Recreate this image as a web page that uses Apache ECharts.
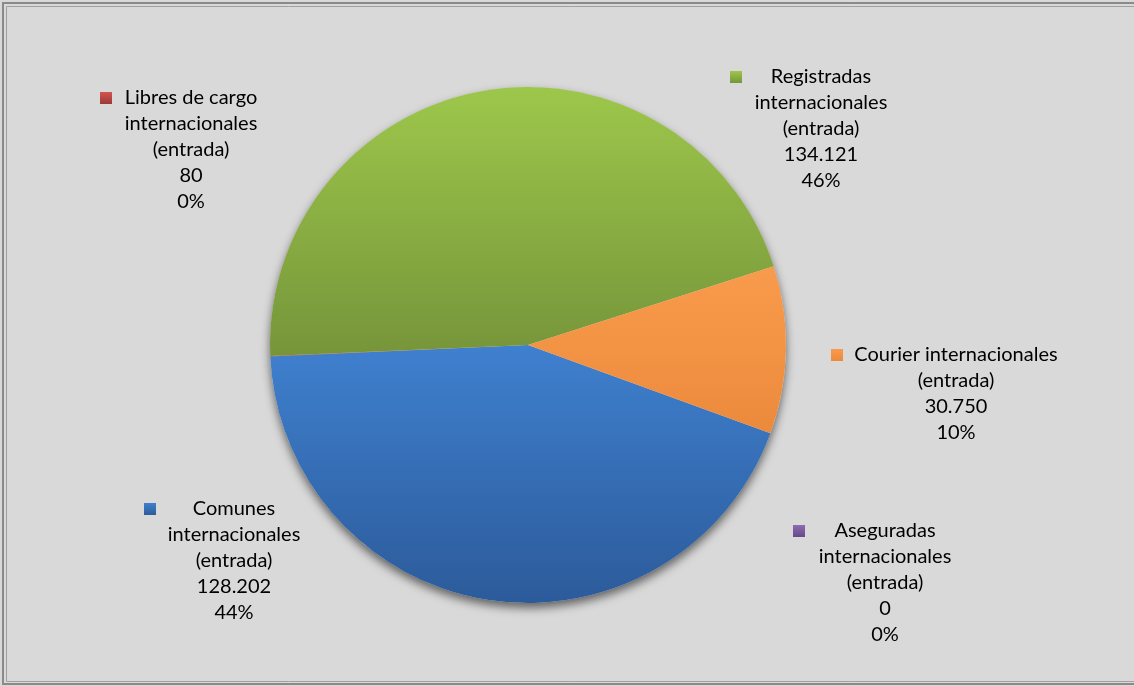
<!DOCTYPE html>
<html>
<head>
<meta charset="utf-8">
<script src="https://cdn.jsdelivr.net/npm/echarts@6/dist/echarts.min.js"></script>
<style>html,body{margin:0;padding:0;background:#d9d9d9;}#c{width:1134px;height:686px;}</style>
</head>
<body>
<div id="c"></div>
<script>
// ---- data ----
const categories = [
  'Comunes internacionales (entrada)',
  'Libres de cargo internacionales (entrada)',
  'Registradas internacionales (entrada)',
  'Courier internacionales (entrada)',
  'Aseguradas internacionales (entrada)'
];
const labelLines = [
  ['Comunes', 'internacionales', '(entrada)'],
  ['Libres de cargo', 'internacionales', '(entrada)'],
  ['Registradas', 'internacionales', '(entrada)'],
  ['Courier internacionales', '(entrada)'],
  ['Aseguradas', 'internacionales', '(entrada)']
];
const values = [128202, 80, 134121, 30750, 0];

// ---- styling ----
const gradStops = [
  ['#3f80cf', '#2c5b9a'],
  ['#d2534f', '#9c3a37'],
  ['#9dc74b', '#76953a'],
  ['#f99b4c', '#ec8a3c'],
  ['#8e6bb3', '#66498a']
];
// label block centres (text) and marker positions
const textPos = [[234, 561], [191, 150], [821, 129], [956, 394], [885, 583]];
const markPos = [[150, 509], [106, 98], [736, 77], [837, 355], [799, 531]];

function grad(i) {
  return new echarts.graphic.LinearGradient(0, 0, 0, 1, [
    { offset: 0, color: gradStops[i][0] },
    { offset: 1, color: gradStops[i][1] }
  ]);
}
function fmt(v) {
  return String(v).replace(/\B(?=(\d{3})+(?!\d))/g, '.');
}

const radius = 258;
const FONT = 'Lato';

const chart = echarts.init(document.getElementById('c'), null, { renderer: 'canvas' });

const mainData = values.map((v, i) => ({
  name: categories[i],
  value: v,
  itemStyle: { color: grad(i) }
}));
const total = values.reduce((a, b) => a + b, 0);

chart.setOption({
  backgroundColor: '#d9d9d9',
  animation: false,
  graphic: [
    { type: 'rect', silent: true, shape: { x: 3, y: 3, width: 1140, height: 681 },
      style: { fill: 'none', stroke: '#8a8a8a', lineWidth: 2 } },
    { type: 'rect', silent: true, shape: { x: 6.5, y: 6.5, width: 1140, height: 675 },
      style: { fill: 'none', stroke: '#a0a0a0', lineWidth: 1 } }
  ],
  series: [
    {
      // shadow of the whole pie
      type: 'pie', silent: true, z: 1,
      center: [528, 345], radius: radius, startAngle: -20,
      label: { show: false }, labelLine: { show: false },
      itemStyle: { color: '#d9d9d9', shadowBlur: 10, shadowOffsetY: 5, shadowColor: 'rgba(0,0,0,0.55)' },
      data: [{ name: 'total', value: total }]
    },
    {
      type: 'pie', z: 2,
      center: [528, 345], radius: radius, startAngle: -20, clockwise: true,
      minAngle: 0, avoidLabelOverlap: false, stillShowZeroSum: true,
      itemStyle: { borderWidth: 0 },
      labelLine: { show: false },
      label: {
        show: true,
        formatter: p => labelLines[p.dataIndex].join('\n') + '\n' + fmt(p.value) + '\n' + Math.round(p.percent) + '%',
        fontFamily: FONT, fontSize: 20, lineHeight: 26, color: '#000', align: 'center'
      },
      labelLayout: p => ({ x: textPos[p.dataIndex][0], y: textPos[p.dataIndex][1], align: 'center', verticalAlign: 'middle' }),
      data: mainData
    },
    {
      // legend key squares attached to each label
      type: 'pie', z: 3, silent: true,
      center: [528, 345], radius: radius, startAngle: -20,
      itemStyle: { color: 'rgba(0,0,0,0)' },
      labelLine: { show: false },
      label: { show: true, formatter: '{sq|}' },
      labelLayout: p => ({ x: markPos[p.dataIndex][0], y: markPos[p.dataIndex][1], align: 'center', verticalAlign: 'middle' }),
      data: values.map((v, i) => ({
        name: categories[i], value: v,
        label: { rich: { sq: { width: 12, height: 12, backgroundColor: grad(i) } } }
      }))
    }
  ]
});
</script>
</body>
</html>
